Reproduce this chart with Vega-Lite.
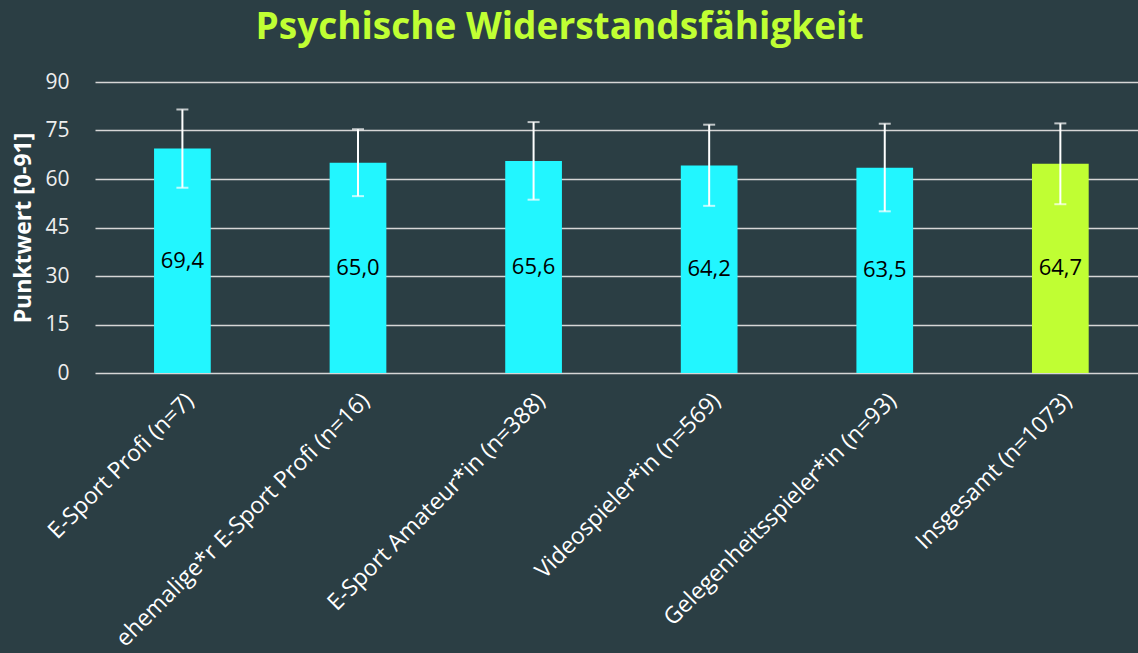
{
  "$schema": "https://vega.github.io/schema/vega-lite/v6.json",
  "autosize": {"type": "none"},
  "width": 1043,
  "height": 291,
  "padding": {"left": 95, "top": 82, "right": 0, "bottom": 280},
  "background": "#2b3e44",
  "config": {"font": "Open Sans", "view": {"stroke": null}},
  "title": {
    "text": "Psychische Widerstandsfähigkeit",
    "color": "#c0ff33",
    "fontSize": 37,
    "fontWeight": "bold",
    "font": "Open Sans",
    "anchor": "middle",
    "baseline": "alphabetic",
    "dx": -57,
    "offset": -5
  },
  "data": {
    "values": [
      {"group": "E-Sport Profi (n=7)", "mean": 69.4, "lo": 57.3, "hi": 81.5, "label": "69,4", "kind": "Gruppe"},
      {"group": "ehemalige*r E-Sport Profi (n=16)", "mean": 65.0, "lo": 54.7, "hi": 75.4, "label": "65,0", "kind": "Gruppe"},
      {"group": "E-Sport Amateur*in (n=388)", "mean": 65.6, "lo": 53.6, "hi": 77.6, "label": "65,6", "kind": "Gruppe"},
      {"group": "Videospieler*in (n=569)", "mean": 64.2, "lo": 51.7, "hi": 76.8, "label": "64,2", "kind": "Gruppe"},
      {"group": "Gelegenheitsspieler*in (n=93)", "mean": 63.5, "lo": 50.0, "hi": 77.1, "label": "63,5", "kind": "Gruppe"},
      {"group": "Insgesamt (n=1073)", "mean": 64.7, "lo": 52.2, "hi": 77.2, "label": "64,7", "kind": "Gesamt"}
    ]
  },
  "encoding": {
    "x": {
      "field": "group",
      "type": "nominal",
      "sort": null,
      "scale": {"paddingInner": 0.677, "paddingOuter": 0.3085, "align": 0.545},
      "axis": {
        "title": null,
        "labelAngle": -45,
        "labelFontSize": 23,
        "labelColor": "#ffffff",
        "labelFont": "Open Sans",
        "labelPadding": 16,
        "labelLimit": 0,
        "ticks": false,
        "domain": false
      }
    }
  },
  "layer": [
    {
      "mark": {"type": "bar"},
      "encoding": {
        "y": {
          "field": "mean",
          "type": "quantitative",
          "scale": {"domain": [0, 90], "nice": false},
          "axis": {
            "title": "Punktwert [0-91]",
            "titleFontSize": 23,
            "titleFontWeight": "bold",
            "titleColor": "#ffffff",
            "titleFont": "Open Sans",
            "titleAngle": -90,
            "titleBaseline": "middle",
            "titleX": -72,
            "titleY": 145.5,
            "values": [0, 15, 30, 45, 60, 75, 90],
            "labelFontSize": 21,
            "labelColor": "#eeeeee",
            "labelFont": "Open Sans",
            "labelPadding": 26,
            "ticks": false,
            "domain": false,
            "grid": true,
            "gridColor": "#d6d6d6",
            "gridWidth": 1.5
          }
        },
        "color": {
          "field": "kind",
          "type": "nominal",
          "scale": {"domain": ["Gruppe", "Gesamt"], "range": ["#22f6ff", "#c0fe33"]},
          "legend": null
        }
      }
    },
    {
      "mark": {"type": "rule", "color": "#ffffff", "strokeWidth": 2},
      "encoding": {
        "y": {"field": "lo", "type": "quantitative", "scale": {"domain": [0, 90], "nice": false}, "axis": null},
        "y2": {"field": "hi"}
      }
    },
    {
      "mark": {"type": "tick", "color": "#ffffff", "size": 12, "thickness": 2},
      "encoding": {
        "y": {"field": "lo", "type": "quantitative", "scale": {"domain": [0, 90], "nice": false}, "axis": null}
      }
    },
    {
      "mark": {"type": "tick", "color": "#ffffff", "size": 12, "thickness": 2},
      "encoding": {
        "y": {"field": "hi", "type": "quantitative", "scale": {"domain": [0, 90], "nice": false}, "axis": null}
      }
    },
    {
      "mark": {"type": "text", "color": "#000000", "fontSize": 22, "font": "Open Sans", "baseline": "middle", "align": "center"},
      "encoding": {
        "y": {"field": "mean", "type": "quantitative", "scale": {"domain": [0, 180], "nice": false}, "axis": null},
        "text": {"field": "label"}
      }
    }
  ],
  "resolve": {"scale": {"y": "independent"}}
}
